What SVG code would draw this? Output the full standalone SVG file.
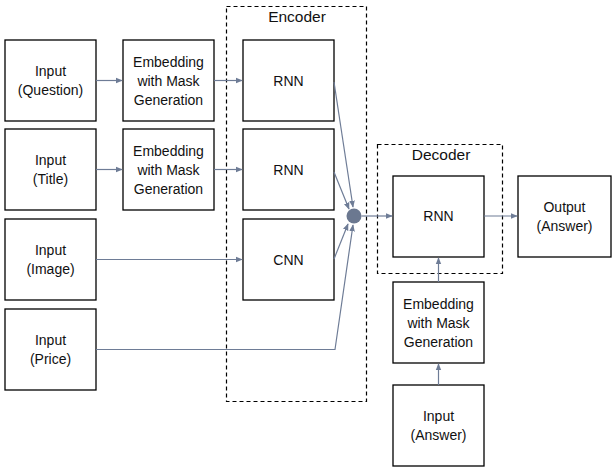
<svg xmlns="http://www.w3.org/2000/svg" width="616" height="474" viewBox="0 0 616 474">
  <style>
    .box { fill: #ffffff; stroke: #000000; stroke-width: 1.3; }
    .group { fill: none; stroke: #000000; stroke-width: 1.2; stroke-dasharray: 4 3; }
    .lbl { font-family: "Liberation Sans", Arial, sans-serif; font-size: 14px; fill: #111111; text-anchor: middle; }
    .title { font-family: "Liberation Sans", Arial, sans-serif; font-size: 15.5px; fill: #111111; text-anchor: middle; }
    .wire { fill: none; stroke: #6e7c96; stroke-width: 1.2; marker-end: url(#arr); }
  </style>
  <defs>
    <marker id="arr" viewBox="0 0 10 10" refX="9" refY="5" markerWidth="7" markerHeight="7" markerUnits="userSpaceOnUse" orient="auto">
      <path d="M0,1 L10,5 L0,9 z" fill="#6e7c96"/>
    </marker>
  </defs>

  <!-- dashed grouping frames -->
  <g id="encoder">
    <rect class="group" x="226.5" y="6.5" width="140" height="395"/>
    <text class="title" x="297" y="22">Encoder</text>
  </g>
  <g id="decoder">
    <rect class="group" x="377.5" y="144.5" width="125" height="129"/>
    <text class="title" x="441" y="160">Decoder</text>
  </g>

  <!-- inputs -->
  <g id="in-question">
    <rect class="box" x="5" y="40" width="91" height="81"/>
    <text class="lbl" x="50.5" y="76">Input</text>
    <text class="lbl" x="50.5" y="95">(Question)</text>
  </g>
  <g id="in-title">
    <rect class="box" x="5" y="129" width="91" height="81"/>
    <text class="lbl" x="50.5" y="165">Input</text>
    <text class="lbl" x="50.5" y="184">(Title)</text>
  </g>
  <g id="in-image">
    <rect class="box" x="5" y="219" width="91" height="81"/>
    <text class="lbl" x="50.5" y="255">Input</text>
    <text class="lbl" x="50.5" y="274">(Image)</text>
  </g>
  <g id="in-price">
    <rect class="box" x="5" y="309" width="91" height="81"/>
    <text class="lbl" x="50.5" y="345">Input</text>
    <text class="lbl" x="50.5" y="364">(Price)</text>
  </g>

  <!-- embeddings -->
  <g id="emb-question">
    <rect class="box" x="123" y="40" width="91" height="81"/>
    <text class="lbl" x="168.5" y="67">Embedding</text>
    <text class="lbl" x="168.5" y="86">with Mask</text>
    <text class="lbl" x="168.5" y="105">Generation</text>
  </g>
  <g id="emb-title">
    <rect class="box" x="123" y="129" width="91" height="81"/>
    <text class="lbl" x="168.5" y="156">Embedding</text>
    <text class="lbl" x="168.5" y="175">with Mask</text>
    <text class="lbl" x="168.5" y="194">Generation</text>
  </g>

  <!-- encoder blocks -->
  <g id="rnn-question">
    <rect class="box" x="243" y="40" width="91" height="81"/>
    <text class="lbl" x="288.5" y="86">RNN</text>
  </g>
  <g id="rnn-title">
    <rect class="box" x="243" y="129" width="91" height="81"/>
    <text class="lbl" x="288.5" y="175">RNN</text>
  </g>
  <g id="cnn-image">
    <rect class="box" x="243" y="219" width="91" height="81"/>
    <text class="lbl" x="288.5" y="265">CNN</text>
  </g>

  <!-- merge point -->
  <g id="merge">
    <circle cx="354" cy="216" r="7.5" fill="#6b7890"/>
  </g>

  <!-- decoder side -->
  <g id="rnn-decoder">
    <rect class="box" x="393" y="176" width="91" height="81"/>
    <text class="lbl" x="438.5" y="221">RNN</text>
  </g>
  <g id="out-answer">
    <rect class="box" x="518" y="176" width="93" height="81"/>
    <text class="lbl" x="564.5" y="212">Output</text>
    <text class="lbl" x="564.5" y="231">(Answer)</text>
  </g>
  <g id="emb-answer">
    <rect class="box" x="393" y="282" width="91" height="81"/>
    <text class="lbl" x="438.5" y="309">Embedding</text>
    <text class="lbl" x="438.5" y="328">with Mask</text>
    <text class="lbl" x="438.5" y="347">Generation</text>
  </g>
  <g id="in-answer">
    <rect class="box" x="393" y="385" width="91" height="81"/>
    <text class="lbl" x="438.5" y="421">Input</text>
    <text class="lbl" x="438.5" y="440">(Answer)</text>
  </g>

  <!-- connectors -->
  <g id="connectors">
    <path class="wire" d="M96,80.5 H122"/>
    <path class="wire" d="M96,169.5 H122"/>
    <path class="wire" d="M214,80.5 H242"/>
    <path class="wire" d="M214,169.5 H242"/>
    <path class="wire" d="M96,259.5 H242"/>
    <path class="wire" d="M334,82 L353,207"/>
    <path class="wire" d="M334,172 L349,209"/>
    <path class="wire" d="M334,259 L348,224"/>
    <path class="wire" d="M96,349.5 H335 L353,225"/>
    <path class="wire" d="M361.5,216 H392"/>
    <path class="wire" d="M484,216 H517"/>
    <path class="wire" d="M438.5,385 V364"/>
    <path class="wire" d="M438.5,282 V258"/>
  </g>
</svg>
